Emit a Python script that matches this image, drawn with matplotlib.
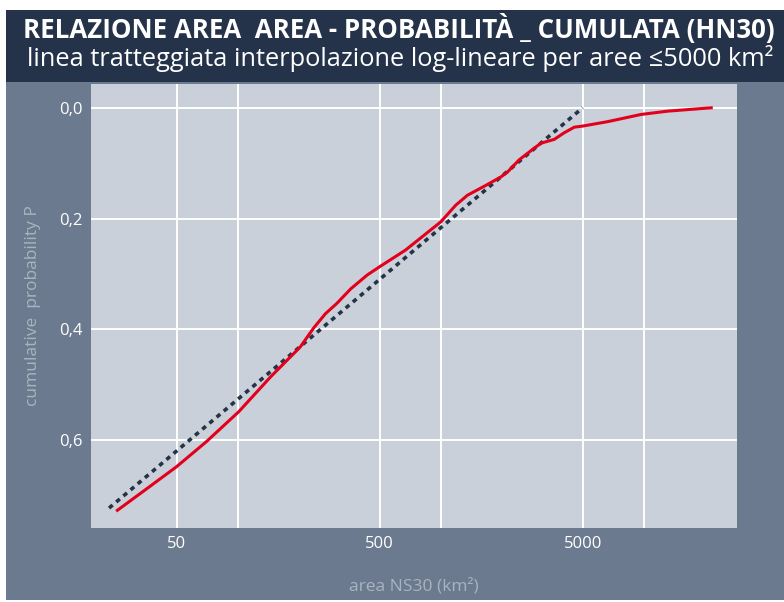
import matplotlib
matplotlib.use("Agg")
import matplotlib.pyplot as plt
from matplotlib.patches import Rectangle

# values
area = [25.5, 35, 50, 70, 101, 145, 203, 236, 270, 308, 360, 434, 500, 670, 1000,
        1184, 1352, 1650, 1975, 2132, 2432, 2884, 3112, 3622, 4058, 4545, 5000,
        6640, 9700, 13150, 21500]
prob = [0.727, 0.690, 0.648, 0.603, 0.549, 0.486, 0.432, 0.398, 0.372, 0.353, 0.327,
        0.302, 0.287, 0.257, 0.206, 0.176, 0.158, 0.141, 0.125, 0.116, 0.094, 0.073,
        0.064, 0.057, 0.045, 0.035, 0.033, 0.025, 0.012, 0.006, 0.0]

# log-linear fit for areas <= 5000 km2 (endpoints)
fit_area = [23.2, 5000]
fit_prob = [0.723, 0.0]

x_ticks = [50, 100, 500, 1000, 5000, 10000]
x_ticklabels = ["50", "", "500", "", "5000", ""]
y_ticks = [0.0, 0.2, 0.4, 0.6]
y_ticklabels = ["0,0", "0,2", "0,4", "0,6"]

title = "RELAZIONE AREA  AREA - PROBABILITÀ _ CUMULATA (HN30)"
subtitle = "linea tratteggiata interpolazione log-lineare per aree \u22645000 km\u00b2"

plt.rcParams["font.family"] = ["Open Sans", "DejaVu Sans"]

fig = plt.figure(figsize=(7.84, 6.02), dpi=100)
fig.patch.set_facecolor("white")

# background panels
fig.add_artist(Rectangle((6 / 784, 2 / 602), 1, 518 / 602, transform=fig.transFigure,
                         facecolor="#6b7a8f", edgecolor="none", zorder=0))
fig.add_artist(Rectangle((6 / 784, 520 / 602), 1, 72 / 602, transform=fig.transFigure,
                         facecolor="#243349", edgecolor="none", zorder=0))

t1 = fig.text(0.509, 0.9364, title, color="white", fontsize=16, fontweight="bold",
              ha="center", va="baseline")
t2 = fig.text(0.510, 0.8904, subtitle, color="white", fontsize=18,
              ha="center", va="baseline")

# shrink/grow the heading texts so they span the same width as the original
fig.canvas.draw()
r = fig.canvas.get_renderer()
for t, w in [(t1, 753), (t2, 746)]:
    cur = t.get_window_extent(r).width
    t.set_fontsize(t.get_fontsize() * w / cur)

ax = fig.add_axes([91 / 784, 74 / 602, 646 / 784, 444 / 602])
ax.set_facecolor("#c9d0da")

ax.plot(fit_area, fit_prob, color="#243447", lw=2.6, linestyle=(0, (1.3, 1.3)), zorder=3)
ax.plot(area, prob, color="#e3001b", lw=2.2, zorder=4, solid_joinstyle="round")

ax.set_xscale("log")
ax.set_xlim(18.9, 28800)
ax.set_ylim(0.759, -0.043)

ax.set_xticks(x_ticks)
ax.set_xticklabels(x_ticklabels)
ax.xaxis.set_minor_locator(matplotlib.ticker.NullLocator())
ax.set_yticks(y_ticks)
ax.set_yticklabels(y_ticklabels)

ax.grid(True, color="white", lw=1.4)
ax.set_axisbelow(True)
ax.tick_params(length=0, colors="white", labelsize=12)
ax.tick_params(axis="y", pad=6)
ax.tick_params(axis="x", pad=6)
for s in ax.spines.values():
    s.set_visible(False)

ax.set_xlabel("area NS30 (km\u00b2)", color="#aab3c0", fontsize=12.5)
ax.xaxis.set_label_coords(0.5, -0.113)
ax.set_ylabel("cumulative  probability P", color="#aab3c0", fontsize=12.5)
ax.yaxis.set_label_coords(-0.077, 0.5)

fig.savefig("out.png", dpi=100, facecolor=fig.get_facecolor())
